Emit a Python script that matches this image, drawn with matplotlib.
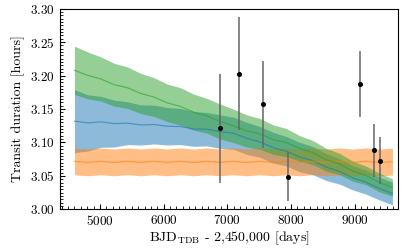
import numpy as np
import matplotlib
matplotlib.use("Agg")
import matplotlib.pyplot as plt
from matplotlib.ticker import MultipleLocator

plt.rcParams["font.family"] = "serif"
plt.rcParams["font.serif"] = ["cmr10"]
plt.rcParams["mathtext.fontset"] = "cm"
plt.rcParams["axes.unicode_minus"] = False
plt.rcParams["axes.formatter.use_mathtext"] = True

# model epochs (BJD_TDB - 2,450,000)
t_model = [4600, 4808, 5016, 5224, 5432, 5640, 5848, 6056, 6264, 6472, 6680, 6888, 7096,
           7304, 7512, 7720, 7928, 8136, 8344, 8552, 8760, 8968, 9176, 9384, 9592]

# blue model: median and half-width of the band
blue_mid = [3.1318, 3.1292, 3.1308, 3.1282, 3.1288, 3.1262, 3.1268, 3.1242, 3.1238, 3.1202,
            3.1198, 3.1162, 3.1138, 3.1062, 3.1008, 3.0922, 3.0868, 3.0782, 3.0728, 3.0632,
            3.0568, 3.0472, 3.0408, 3.0312, 3.0238]
blue_err = [0.047, 0.042, 0.038, 0.035, 0.032, 0.030, 0.029, 0.028, 0.027, 0.026, 0.025, 0.025,
            0.024, 0.024, 0.023, 0.023, 0.022, 0.022, 0.021, 0.020, 0.019, 0.018, 0.018, 0.017, 0.017]

# orange model
orange_mid = [3.0718, 3.0702, 3.0718, 3.0702, 3.0718, 3.0702, 3.0718, 3.0702, 3.0718, 3.0702,
              3.0718, 3.0702, 3.0718, 3.0702, 3.0718, 3.0702, 3.0718, 3.0702, 3.0718, 3.0702,
              3.0718, 3.0702, 3.0718, 3.0702, 3.0712]
orange_err = [0.020, 0.020, 0.020, 0.020, 0.020, 0.020, 0.020, 0.020, 0.020, 0.020, 0.020, 0.020,
              0.020, 0.020, 0.020, 0.020, 0.020, 0.020, 0.020, 0.020, 0.020, 0.020, 0.020, 0.020, 0.020]

# green model
green_mid = [3.2078, 3.2002, 3.1948, 3.1862, 3.1818, 3.1732, 3.1678, 3.1592, 3.1538, 3.1452,
             3.1398, 3.1312, 3.1248, 3.1172, 3.1128, 3.1042, 3.0998, 3.0912, 3.0848, 3.0742,
             3.0678, 3.0572, 3.0508, 3.0402, 3.0328]
green_err = [0.036, 0.035, 0.033, 0.032, 0.031, 0.030, 0.029, 0.028, 0.028, 0.027, 0.026, 0.026,
             0.025, 0.024, 0.023, 0.022, 0.021, 0.019, 0.018, 0.017, 0.016, 0.015, 0.014, 0.014, 0.013]

# observed transit durations
t_obs = [6880, 7190, 7553, 7948, 9084, 9295, 9395]
dur_obs = [3.121, 3.203, 3.157, 3.049, 3.187, 3.088, 3.073]
dur_err = [0.082, 0.085, 0.065, 0.037, 0.049, 0.039, 0.035]

fig = plt.figure(figsize=(4.07, 2.52), dpi=100)
ax = fig.add_axes([0.147, 0.169, 0.831, 0.797])

t = np.array(t_model)
for mid, err, col in [(blue_mid, blue_err, "tab:blue"),
                      (orange_mid, orange_err, "tab:orange"),
                      (green_mid, green_err, "tab:green")]:
    mid = np.array(mid)
    err = np.array(err)
    ax.fill_between(t, mid - err, mid + err, color=col, alpha=0.5, lw=0)
    ax.plot(t, mid, color=col, lw=0.9, alpha=0.6)

ax.errorbar(t_obs, dur_obs, yerr=dur_err, fmt="o", color="k", ms=2.6,
            ecolor="0.4", elinewidth=1.1, capsize=0, zorder=5)

ax.set_xlim(4370, 9680)
ax.set_ylim(3.0, 3.3)
ax.xaxis.set_major_locator(MultipleLocator(1000))
ax.xaxis.set_minor_locator(MultipleLocator(100))
ax.yaxis.set_major_locator(MultipleLocator(0.05))
ax.yaxis.set_minor_locator(MultipleLocator(0.005))
ax.tick_params(which="both", direction="in", top=False, right=False, labelsize=9.5)
ax.tick_params(which="major", length=3.5, width=0.8)
ax.tick_params(which="minor", length=2, width=0.6)

ax.set_xlabel(r"BJD$_{\mathrm{TDB}}$ - 2,450,000 [days]", fontsize=10, labelpad=1)
ax.set_ylabel("Transit duration [hours]", fontsize=10, labelpad=4)

fig.savefig("out.png", dpi=100)
